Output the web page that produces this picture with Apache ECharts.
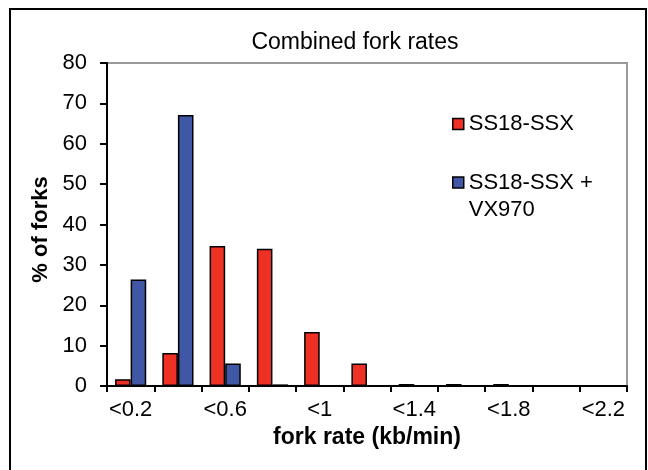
<!DOCTYPE html>
<html><head><meta charset="utf-8">
<script src="https://cdn.jsdelivr.net/npm/echarts@6/dist/echarts.min.js"></script>
<style>html,body{margin:0;padding:0;background:#fff}#c{width:648px;height:470px}</style>
</head><body><div id="c"></div>
<script>
const categories = ['<0.2','<0.4','<0.6','<0.8','<1','<1.2','<1.4','<1.6','<1.8','<2','<2.2'];
const ss18 = [1.7, 8.2, 34.7, 34.0, 13.4, 5.6, 0.5, 0.5, 0.5, 0, 0];
const ss18vx = [26.4, 67.1, 5.6, 0.4, 0, 0, 0, 0, 0, 0, 0];
const yTicks = {min: 0, max: 80, interval: 10};

const FONT = 'Liberation Sans, Arial, sans-serif';
const chart = echarts.init(document.getElementById('c'), null, {renderer: 'canvas'});
chart.setOption({
  animation: false,
  backgroundColor: '#fff',
  title: {
    text: 'Combined fork rates', left: 350, top: 26, textAlign: 'center',
    textStyle: {fontFamily: FONT, fontSize: 23, fontWeight: 'normal', color: '#000'}
  },
  grid: {left: 107, top: 63, width: 520, height: 323, show: true, borderColor: '#9a9a9a', borderWidth: 2, backgroundColor: 'transparent'},
  legend: [
    {
      left: 447, top: 108, orient: 'vertical', icon: 'rect', itemWidth: 11, itemHeight: 11,
      data: [{name: 'SS18-SSX'}],
      itemStyle: {borderColor: '#000', borderWidth: 1.5},
      textStyle: {fontFamily: FONT, fontSize: 22, color: '#000'}
    },
    {
      left: 447, top: 137, orient: 'vertical', icon: 'rect', itemWidth: 11, itemHeight: 11,
      data: [{name: 'SS18-SSX + VX970'}],
      formatter: n => '\nSS18-SSX +\nVX970',
      itemStyle: {borderColor: '#000', borderWidth: 1.5},
      textStyle: {fontFamily: FONT, fontSize: 22, color: '#000', lineHeight: 27}
    }
  ],
  xAxis: {
    type: 'category', data: categories,
    name: 'fork rate (kb/min)', nameLocation: 'middle', nameGap: 39,
    nameTextStyle: {fontFamily: FONT, fontSize: 23, fontWeight: 'bold', color: '#000'},
    axisLine: {lineStyle: {color: '#000', width: 2}},
    axisTick: {show: true, alignWithLabel: false, interval: 0, length: 6, lineStyle: {color: '#000', width: 2}},
    axisLabel: {interval: 1, margin: 13, fontFamily: FONT, fontSize: 22, color: '#000'}
  },
  yAxis: {
    type: 'value', min: yTicks.min, max: yTicks.max, interval: yTicks.interval,
    name: '% of forks', nameLocation: 'middle', nameGap: 55, nameRotate: 90,
    nameTextStyle: {fontFamily: FONT, fontSize: 22, fontWeight: 'bold', color: '#000', padding: [0, 10, 0, 0]},
    axisLine: {show: true, lineStyle: {color: '#000', width: 2}},
    axisTick: {show: true, length: 7, lineStyle: {color: '#000', width: 2}},
    axisLabel: {margin: 20, fontFamily: FONT, fontSize: 22, color: '#000'},
    splitLine: {show: false}
  },
  series: [
    {name: 'SS18-SSX', type: 'bar', data: ss18, barGap: '0%', barCategoryGap: '34%',
     itemStyle: {color: '#EE3124', borderColor: '#000', borderWidth: 1.5}},
    {name: 'SS18-SSX + VX970', type: 'bar', data: ss18vx, barGap: '0%', barCategoryGap: '34%',
     itemStyle: {color: '#4057A6', borderColor: '#000', borderWidth: 1.5}}
  ],
  graphic: [{
    type: 'rect', z: 100, silent: true,
    shape: {x: 10, y: 9, width: 636, height: 490},
    style: {fill: null, stroke: '#000', lineWidth: 2}
  }]
});
</script></body></html>
